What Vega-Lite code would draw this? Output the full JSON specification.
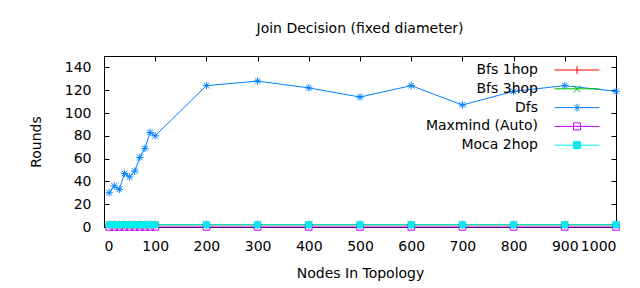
{
  "$schema": "https://vega.github.io/schema/vega-lite/v6.json",
  "width": 512,
  "height": 171,
  "autosize": {"type": "none"},
  "padding": {"left": 104, "top": 56, "right": 24, "bottom": 61},
  "title": {"text": "Join Decision (fixed diameter)", "fontSize": 14, "font": "DejaVu Sans", "fontWeight": "normal", "offset": 20, "anchor": "middle", "color": "black"},
  "data": {"values": [
    {"series": "Bfs 1hop", "nodes": 10, "rounds": 2}, {"series": "Bfs 1hop", "nodes": 20, "rounds": 2}, {"series": "Bfs 1hop", "nodes": 30, "rounds": 2}, {"series": "Bfs 1hop", "nodes": 40, "rounds": 2}, {"series": "Bfs 1hop", "nodes": 50, "rounds": 2}, {"series": "Bfs 1hop", "nodes": 60, "rounds": 2}, {"series": "Bfs 1hop", "nodes": 70, "rounds": 2}, {"series": "Bfs 1hop", "nodes": 80, "rounds": 2}, {"series": "Bfs 1hop", "nodes": 90, "rounds": 2}, {"series": "Bfs 1hop", "nodes": 100, "rounds": 2}, {"series": "Bfs 1hop", "nodes": 200, "rounds": 2}, {"series": "Bfs 1hop", "nodes": 300, "rounds": 2}, {"series": "Bfs 1hop", "nodes": 400, "rounds": 2}, {"series": "Bfs 1hop", "nodes": 500, "rounds": 2}, {"series": "Bfs 1hop", "nodes": 600, "rounds": 2}, {"series": "Bfs 1hop", "nodes": 700, "rounds": 2}, {"series": "Bfs 1hop", "nodes": 800, "rounds": 2}, {"series": "Bfs 1hop", "nodes": 900, "rounds": 2}, {"series": "Bfs 1hop", "nodes": 1000, "rounds": 2},
    {"series": "Bfs 3hop", "nodes": 10, "rounds": 2}, {"series": "Bfs 3hop", "nodes": 20, "rounds": 2}, {"series": "Bfs 3hop", "nodes": 30, "rounds": 2}, {"series": "Bfs 3hop", "nodes": 40, "rounds": 2}, {"series": "Bfs 3hop", "nodes": 50, "rounds": 2}, {"series": "Bfs 3hop", "nodes": 60, "rounds": 2}, {"series": "Bfs 3hop", "nodes": 70, "rounds": 2}, {"series": "Bfs 3hop", "nodes": 80, "rounds": 2}, {"series": "Bfs 3hop", "nodes": 90, "rounds": 2}, {"series": "Bfs 3hop", "nodes": 100, "rounds": 2}, {"series": "Bfs 3hop", "nodes": 200, "rounds": 2}, {"series": "Bfs 3hop", "nodes": 300, "rounds": 2}, {"series": "Bfs 3hop", "nodes": 400, "rounds": 2}, {"series": "Bfs 3hop", "nodes": 500, "rounds": 2}, {"series": "Bfs 3hop", "nodes": 600, "rounds": 2}, {"series": "Bfs 3hop", "nodes": 700, "rounds": 2}, {"series": "Bfs 3hop", "nodes": 800, "rounds": 2}, {"series": "Bfs 3hop", "nodes": 900, "rounds": 2}, {"series": "Bfs 3hop", "nodes": 1000, "rounds": 2},
    {"series": "Dfs", "nodes": 10, "rounds": 30}, {"series": "Dfs", "nodes": 20, "rounds": 36}, {"series": "Dfs", "nodes": 30, "rounds": 33}, {"series": "Dfs", "nodes": 40, "rounds": 47}, {"series": "Dfs", "nodes": 50, "rounds": 44}, {"series": "Dfs", "nodes": 60, "rounds": 49}, {"series": "Dfs", "nodes": 70, "rounds": 61}, {"series": "Dfs", "nodes": 80, "rounds": 69}, {"series": "Dfs", "nodes": 90, "rounds": 83}, {"series": "Dfs", "nodes": 100, "rounds": 80}, {"series": "Dfs", "nodes": 200, "rounds": 124}, {"series": "Dfs", "nodes": 300, "rounds": 128}, {"series": "Dfs", "nodes": 400, "rounds": 122}, {"series": "Dfs", "nodes": 500, "rounds": 114}, {"series": "Dfs", "nodes": 600, "rounds": 124}, {"series": "Dfs", "nodes": 700, "rounds": 107}, {"series": "Dfs", "nodes": 800, "rounds": 119}, {"series": "Dfs", "nodes": 900, "rounds": 124}, {"series": "Dfs", "nodes": 1000, "rounds": 119},
    {"series": "Maxmind (Auto)", "nodes": 10, "rounds": 0}, {"series": "Maxmind (Auto)", "nodes": 20, "rounds": 0}, {"series": "Maxmind (Auto)", "nodes": 30, "rounds": 0}, {"series": "Maxmind (Auto)", "nodes": 40, "rounds": 0}, {"series": "Maxmind (Auto)", "nodes": 50, "rounds": 0}, {"series": "Maxmind (Auto)", "nodes": 60, "rounds": 0}, {"series": "Maxmind (Auto)", "nodes": 70, "rounds": 0}, {"series": "Maxmind (Auto)", "nodes": 80, "rounds": 0}, {"series": "Maxmind (Auto)", "nodes": 90, "rounds": 0}, {"series": "Maxmind (Auto)", "nodes": 100, "rounds": 0}, {"series": "Maxmind (Auto)", "nodes": 200, "rounds": 0}, {"series": "Maxmind (Auto)", "nodes": 300, "rounds": 0}, {"series": "Maxmind (Auto)", "nodes": 400, "rounds": 0}, {"series": "Maxmind (Auto)", "nodes": 500, "rounds": 0}, {"series": "Maxmind (Auto)", "nodes": 600, "rounds": 0}, {"series": "Maxmind (Auto)", "nodes": 700, "rounds": 0}, {"series": "Maxmind (Auto)", "nodes": 800, "rounds": 0}, {"series": "Maxmind (Auto)", "nodes": 900, "rounds": 0}, {"series": "Maxmind (Auto)", "nodes": 1000, "rounds": 0},
    {"series": "Moca 2hop", "nodes": 10, "rounds": 2}, {"series": "Moca 2hop", "nodes": 20, "rounds": 2}, {"series": "Moca 2hop", "nodes": 30, "rounds": 2}, {"series": "Moca 2hop", "nodes": 40, "rounds": 2}, {"series": "Moca 2hop", "nodes": 50, "rounds": 2}, {"series": "Moca 2hop", "nodes": 60, "rounds": 2}, {"series": "Moca 2hop", "nodes": 70, "rounds": 2}, {"series": "Moca 2hop", "nodes": 80, "rounds": 2}, {"series": "Moca 2hop", "nodes": 90, "rounds": 2}, {"series": "Moca 2hop", "nodes": 100, "rounds": 2}, {"series": "Moca 2hop", "nodes": 200, "rounds": 2}, {"series": "Moca 2hop", "nodes": 300, "rounds": 2}, {"series": "Moca 2hop", "nodes": 400, "rounds": 2}, {"series": "Moca 2hop", "nodes": 500, "rounds": 2}, {"series": "Moca 2hop", "nodes": 600, "rounds": 2}, {"series": "Moca 2hop", "nodes": 700, "rounds": 2}, {"series": "Moca 2hop", "nodes": 800, "rounds": 2}, {"series": "Moca 2hop", "nodes": 900, "rounds": 2}, {"series": "Moca 2hop", "nodes": 1000, "rounds": 2}
  ]},
  "layer": [
    {
      "mark": {"type": "line", "strokeWidth": 1, "clip": false},
      "encoding": {
        "x": {"field": "nodes", "type": "quantitative", "scale": {"domain": [0, 1000], "nice": false},
              "axis": {"orient": "bottom", "values": [0, 100, 200, 300, 400, 500, 600, 700, 800, 900, 1000], "format": "d", "title": "Nodes In Topology", "titlePadding": 13, "labelPadding": 17}},
        "y": {"field": "rounds", "type": "quantitative", "scale": {"domain": [0, 150], "nice": false},
              "axis": {"orient": "left", "values": [0, 20, 40, 60, 80, 100, 120, 140], "format": "d", "title": "Rounds", "titlePadding": 21, "labelPadding": 18}},
        "color": {"field": "series", "type": "nominal",
                  "scale": {"domain": ["Bfs 1hop", "Bfs 3hop", "Dfs", "Maxmind (Auto)", "Moca 2hop"], "range": ["#ff0000", "#00c000", "#0080ff", "#c000ff", "#00eeee"]},
                  "legend": {
                    "orient": "none", "legendX": 466, "legendY": 7, "title": null,
                    "symbolSize": 49, "symbolStrokeWidth": 1, "labelAlign": "right", "labelOffset": -46,
                    "labelFontSize": 14, "labelFont": "DejaVu Sans", "labelColor": "black", "rowPadding": 4.8, "labelLimit": 0,
                    "encode": {"symbols": {"update": {
                      "shape": {"signal": "datum.value === 'Bfs 1hop' ? 'M-6.4,0H6.4M0,-1.1V1.1' : datum.value === 'Bfs 3hop' ? 'M-6.4,0H6.4M-1,-1L1,1M-1,1L1,-1' : datum.value === 'Dfs' ? 'M-6.4,0H6.4M0,-1.1V1.1M-0.8,-0.8L0.8,0.8M-0.8,0.8L0.8,-0.8' : 'M-6.4,0H6.4M-1,-1H1V1H-1Z'"},
                      "fillOpacity": {"signal": "datum.value === 'Moca 2hop' ? 1 : 0"},
                      "strokeWidth": {"value": 1},
                      "opacity": {"value": 1}
                    }}}
                  }}
      }
    },
    {
      "transform": [{"filter": "datum.series === 'Bfs 1hop'"}],
      "mark": {"type": "point", "filled": false, "shape": "M-1,0H1M0,-1V1", "strokeWidth": 1, "size": 64, "opacity": 1, "clip": false},
      "encoding": {
        "x": {"field": "nodes", "type": "quantitative", "axis": {"orient": "top", "values": [0, 100, 200, 300, 400, 500, 600, 700, 800, 900, 1000], "labels": false, "title": null}},
        "y": {"field": "rounds", "type": "quantitative", "axis": {"orient": "right", "values": [0, 20, 40, 60, 80, 100, 120, 140], "labels": false, "title": null}},
        "color": {"field": "series", "type": "nominal", "legend": null}
      }
    },
    {
      "transform": [{"filter": "datum.series === 'Bfs 3hop'"}],
      "mark": {"type": "point", "filled": false, "shape": "M-1,-1L1,1M-1,1L1,-1", "strokeWidth": 1, "size": 49, "opacity": 1, "clip": false},
      "encoding": {
        "x": {"field": "nodes", "type": "quantitative", "axis": null},
        "y": {"field": "rounds", "type": "quantitative", "axis": null},
        "color": {"field": "series", "type": "nominal", "legend": null}
      }
    },
    {
      "transform": [{"filter": "datum.series === 'Dfs'"}],
      "mark": {"type": "point", "filled": false, "shape": "M-1,0H1M0,-1V1M-0.75,-0.75L0.75,0.75M-0.75,0.75L0.75,-0.75", "strokeWidth": 1, "size": 56, "opacity": 1, "clip": false},
      "encoding": {
        "x": {"field": "nodes", "type": "quantitative", "axis": null},
        "y": {"field": "rounds", "type": "quantitative", "axis": null},
        "color": {"field": "series", "type": "nominal", "legend": null}
      }
    },
    {
      "transform": [{"filter": "datum.series === 'Maxmind (Auto)'"}],
      "mark": {"type": "point", "filled": false, "shape": "square", "strokeWidth": 1, "size": 42, "opacity": 1, "clip": false},
      "encoding": {
        "x": {"field": "nodes", "type": "quantitative", "axis": null},
        "y": {"field": "rounds", "type": "quantitative", "axis": null},
        "color": {"field": "series", "type": "nominal", "legend": null}
      }
    },
    {
      "transform": [{"filter": "datum.series === 'Moca 2hop'"}],
      "mark": {"type": "point", "filled": true, "shape": "square", "strokeWidth": 0, "size": 49, "opacity": 1, "clip": false},
      "encoding": {
        "x": {"field": "nodes", "type": "quantitative", "axis": null},
        "y": {"field": "rounds", "type": "quantitative", "axis": null},
        "color": {"field": "series", "type": "nominal", "legend": null}
      }
    }
  ],
  "resolve": {"axis": {"x": "independent", "y": "independent"}},
  "config": {
    "background": "white",
    "view": {"stroke": "black", "strokeWidth": 1},
    "font": "DejaVu Sans",
    "axis": {"domain": false, "grid": false, "tickSize": -5, "tickColor": "black", "tickWidth": 1, "labelFontSize": 14, "labelFont": "DejaVu Sans", "labelColor": "black", "titleFontSize": 14, "titleFont": "DejaVu Sans", "titleFontWeight": "normal", "titleColor": "black"}
  }
}
